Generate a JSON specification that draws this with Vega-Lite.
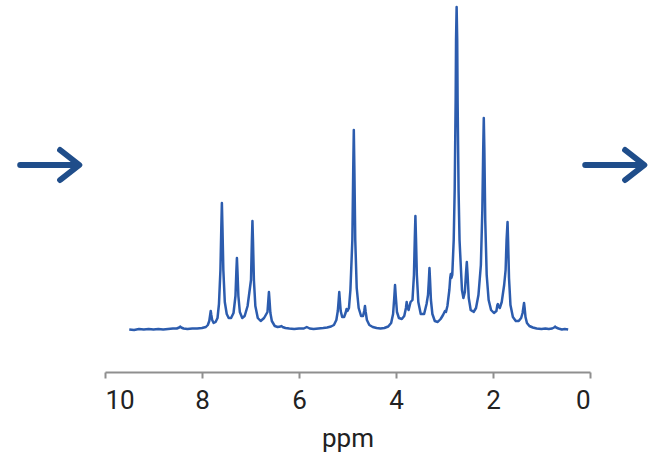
{
  "$schema": "https://vega.github.io/schema/vega-lite/v6.json",
  "width": 485,
  "height": 372,
  "autosize": "none",
  "padding": {"left": 105, "top": 0, "right": 69, "bottom": 90},
  "background": "white",
  "config": {
    "view": {"stroke": null},
    "font": "Roboto",
    "axis": {"grid": false}
  },
  "layer": [
    {
      "data": {"values": [
        {"ppm": 9.5, "i": 0.5}, {"ppm": 9.4, "i": 0}, {"ppm": 9.3, "i": 1}, {"ppm": 9.2, "i": 0.5}, {"ppm": 9.1, "i": 1},
        {"ppm": 9.0, "i": 0.5}, {"ppm": 8.9, "i": 1}, {"ppm": 8.8, "i": 0.5}, {"ppm": 8.7, "i": 1}, {"ppm": 8.6, "i": 1.5},
        {"ppm": 8.52, "i": 1.5}, {"ppm": 8.47, "i": 2.5}, {"ppm": 8.45, "i": 3.5}, {"ppm": 8.43, "i": 2.5}, {"ppm": 8.38, "i": 1.5},
        {"ppm": 8.3, "i": 1}, {"ppm": 8.2, "i": 1.5}, {"ppm": 8.1, "i": 1.5}, {"ppm": 8.0, "i": 2}, {"ppm": 7.92, "i": 3},
        {"ppm": 7.88, "i": 5}, {"ppm": 7.85, "i": 9}, {"ppm": 7.832, "i": 15}, {"ppm": 7.82, "i": 19}, {"ppm": 7.808, "i": 15},
        {"ppm": 7.79, "i": 10}, {"ppm": 7.76, "i": 7}, {"ppm": 7.72, "i": 8}, {"ppm": 7.68, "i": 12},
        {"ppm": 7.65, "i": 26}, {"ppm": 7.62, "i": 60}, {"ppm": 7.602, "i": 102}, {"ppm": 7.59, "i": 127}, {"ppm": 7.578, "i": 102},
        {"ppm": 7.56, "i": 60}, {"ppm": 7.53, "i": 28}, {"ppm": 7.49, "i": 16}, {"ppm": 7.45, "i": 12}, {"ppm": 7.4, "i": 12},
        {"ppm": 7.35, "i": 17}, {"ppm": 7.31, "i": 34}, {"ppm": 7.292, "i": 58}, {"ppm": 7.28, "i": 72}, {"ppm": 7.268, "i": 58},
        {"ppm": 7.25, "i": 34}, {"ppm": 7.22, "i": 18}, {"ppm": 7.17, "i": 12}, {"ppm": 7.12, "i": 14}, {"ppm": 7.06, "i": 24},
        {"ppm": 6.99, "i": 50}, {"ppm": 6.972, "i": 88}, {"ppm": 6.96, "i": 109}, {"ppm": 6.948, "i": 88}, {"ppm": 6.93, "i": 50},
        {"ppm": 6.9, "i": 24}, {"ppm": 6.85, "i": 12}, {"ppm": 6.79, "i": 9}, {"ppm": 6.72, "i": 12},
        {"ppm": 6.65, "i": 18}, {"ppm": 6.632, "i": 30}, {"ppm": 6.62, "i": 38}, {"ppm": 6.608, "i": 30}, {"ppm": 6.59, "i": 17},
        {"ppm": 6.56, "i": 9}, {"ppm": 6.5, "i": 4}, {"ppm": 6.44, "i": 3}, {"ppm": 6.38, "i": 3.5}, {"ppm": 6.36, "i": 4},
        {"ppm": 6.34, "i": 3}, {"ppm": 6.28, "i": 2}, {"ppm": 6.2, "i": 1.5}, {"ppm": 6.1, "i": 1}, {"ppm": 6.0, "i": 1.5},
        {"ppm": 5.9, "i": 1.5}, {"ppm": 5.84, "i": 3}, {"ppm": 5.78, "i": 1.5}, {"ppm": 5.7, "i": 1}, {"ppm": 5.6, "i": 1.5},
        {"ppm": 5.5, "i": 2}, {"ppm": 5.42, "i": 2.5}, {"ppm": 5.34, "i": 3.5}, {"ppm": 5.28, "i": 5},
        {"ppm": 5.23, "i": 10}, {"ppm": 5.2, "i": 19}, {"ppm": 5.182, "i": 30}, {"ppm": 5.17, "i": 38}, {"ppm": 5.158, "i": 30},
        {"ppm": 5.14, "i": 19}, {"ppm": 5.11, "i": 13}, {"ppm": 5.07, "i": 13}, {"ppm": 5.04, "i": 17}, {"ppm": 5.02, "i": 21},
        {"ppm": 5.0, "i": 19}, {"ppm": 4.97, "i": 22}, {"ppm": 4.94, "i": 40}, {"ppm": 4.9, "i": 90}, {"ppm": 4.882, "i": 160},
        {"ppm": 4.87, "i": 200}, {"ppm": 4.858, "i": 160}, {"ppm": 4.84, "i": 90}, {"ppm": 4.81, "i": 42}, {"ppm": 4.77, "i": 22},
        {"ppm": 4.72, "i": 14}, {"ppm": 4.68, "i": 14}, {"ppm": 4.655, "i": 19}, {"ppm": 4.64, "i": 24}, {"ppm": 4.625, "i": 18},
        {"ppm": 4.6, "i": 10}, {"ppm": 4.55, "i": 5}, {"ppm": 4.48, "i": 3}, {"ppm": 4.4, "i": 2}, {"ppm": 4.32, "i": 1.5},
        {"ppm": 4.24, "i": 2}, {"ppm": 4.16, "i": 3.5}, {"ppm": 4.1, "i": 7}, {"ppm": 4.06, "i": 16}, {"ppm": 4.035, "i": 33},
        {"ppm": 4.02, "i": 45}, {"ppm": 4.005, "i": 34}, {"ppm": 3.98, "i": 18}, {"ppm": 3.94, "i": 12}, {"ppm": 3.88, "i": 11},
        {"ppm": 3.83, "i": 14}, {"ppm": 3.795, "i": 22}, {"ppm": 3.78, "i": 28}, {"ppm": 3.765, "i": 23}, {"ppm": 3.74, "i": 20},
        {"ppm": 3.7, "i": 28}, {"ppm": 3.66, "i": 30}, {"ppm": 3.63, "i": 55}, {"ppm": 3.612, "i": 92}, {"ppm": 3.6, "i": 114},
        {"ppm": 3.588, "i": 92}, {"ppm": 3.57, "i": 55}, {"ppm": 3.54, "i": 28}, {"ppm": 3.49, "i": 16}, {"ppm": 3.42, "i": 16},
        {"ppm": 3.37, "i": 26}, {"ppm": 3.34, "i": 35}, {"ppm": 3.322, "i": 50}, {"ppm": 3.31, "i": 62}, {"ppm": 3.298, "i": 50},
        {"ppm": 3.28, "i": 30}, {"ppm": 3.25, "i": 16}, {"ppm": 3.2, "i": 9}, {"ppm": 3.14, "i": 8}, {"ppm": 3.08, "i": 11},
        {"ppm": 3.03, "i": 15}, {"ppm": 2.99, "i": 19}, {"ppm": 2.97, "i": 18}, {"ppm": 2.94, "i": 24}, {"ppm": 2.9, "i": 40},
        {"ppm": 2.882, "i": 52}, {"ppm": 2.87, "i": 56}, {"ppm": 2.858, "i": 52}, {"ppm": 2.84, "i": 55}, {"ppm": 2.81, "i": 90},
        {"ppm": 2.79, "i": 140}, {"ppm": 2.77, "i": 230}, {"ppm": 2.762, "i": 290}, {"ppm": 2.75, "i": 323}, {"ppm": 2.738, "i": 290},
        {"ppm": 2.73, "i": 230}, {"ppm": 2.71, "i": 140}, {"ppm": 2.69, "i": 90}, {"ppm": 2.66, "i": 60}, {"ppm": 2.64, "i": 40},
        {"ppm": 2.61, "i": 32}, {"ppm": 2.58, "i": 38}, {"ppm": 2.555, "i": 58}, {"ppm": 2.54, "i": 68}, {"ppm": 2.525, "i": 56},
        {"ppm": 2.5, "i": 32}, {"ppm": 2.46, "i": 20}, {"ppm": 2.43, "i": 19}, {"ppm": 2.42, "i": 19}, {"ppm": 2.4, "i": 18},
        {"ppm": 2.35, "i": 22}, {"ppm": 2.3, "i": 35}, {"ppm": 2.25, "i": 65}, {"ppm": 2.22, "i": 120}, {"ppm": 2.202, "i": 180},
        {"ppm": 2.19, "i": 212}, {"ppm": 2.178, "i": 180}, {"ppm": 2.16, "i": 110}, {"ppm": 2.13, "i": 55}, {"ppm": 2.09, "i": 30},
        {"ppm": 2.04, "i": 20}, {"ppm": 1.98, "i": 17}, {"ppm": 1.93, "i": 19}, {"ppm": 1.91, "i": 25}, {"ppm": 1.9, "i": 26},
        {"ppm": 1.89, "i": 24}, {"ppm": 1.86, "i": 22}, {"ppm": 1.82, "i": 28}, {"ppm": 1.77, "i": 45}, {"ppm": 1.74, "i": 60},
        {"ppm": 1.72, "i": 90}, {"ppm": 1.7, "i": 108}, {"ppm": 1.688, "i": 88}, {"ppm": 1.67, "i": 52}, {"ppm": 1.64, "i": 25},
        {"ppm": 1.59, "i": 13}, {"ppm": 1.53, "i": 9}, {"ppm": 1.47, "i": 9}, {"ppm": 1.42, "i": 12}, {"ppm": 1.39, "i": 17},
        {"ppm": 1.372, "i": 23}, {"ppm": 1.36, "i": 27}, {"ppm": 1.348, "i": 22}, {"ppm": 1.33, "i": 13}, {"ppm": 1.3, "i": 7},
        {"ppm": 1.25, "i": 4}, {"ppm": 1.18, "i": 2.5}, {"ppm": 1.1, "i": 1.5}, {"ppm": 1.0, "i": 1}, {"ppm": 0.92, "i": 1.5},
        {"ppm": 0.85, "i": 1}, {"ppm": 0.78, "i": 1.5}, {"ppm": 0.74, "i": 2.5}, {"ppm": 0.72, "i": 3.5}, {"ppm": 0.7, "i": 2.5},
        {"ppm": 0.65, "i": 1.5}, {"ppm": 0.58, "i": 0.5}, {"ppm": 0.52, "i": 1}, {"ppm": 0.45, "i": 0.5}
      ]},
      "mark": {"type": "line", "color": "#2c5cae", "strokeWidth": 2.5, "strokeJoin": "round"},
      "encoding": {
        "x": {
          "field": "ppm", "type": "quantitative",
          "scale": {"domain": [10, 0], "nice": false, "zero": false},
          "axis": {
            "values": [0, 2, 4, 6, 8, 10],
            "format": "d",
            "title": "ppm",
            "domainColor": "#8f8f8f", "domainWidth": 2,
            "tickColor": "#8f8f8f", "tickWidth": 2, "tickSize": 6,
            "labelFontSize": 26, "labelColor": "#222222", "labelPadding": 9,
            "labelFont": "Roboto",
            "titleFont": "Roboto", "titleFontSize": 26, "titleFontWeight": "normal",
            "titleColor": "#222222", "titlePadding": 12
          }
        },
        "y": {
          "field": "i", "type": "quantitative",
          "scale": {"domain": [-42, 330], "nice": false, "zero": false},
          "axis": null
        }
      }
    },
    {
      "data": {"values": [{"side": "left"}]},
      "mark": {
        "type": "point",
        "clip": false,
        "shape": "M-1,0L0.95,0M0.33,-0.5L0.97,0L0.33,0.5",
        "filled": false,
        "size": 3600,
        "strokeWidth": 6,
        "strokeCap": "round",
        "strokeJoin": "round",
        "color": "#1f4d8a",
        "opacity": 1
      },
      "encoding": {
        "x": {"datum": 11.13, "type": "quantitative"},
        "y": {"datum": 165, "type": "quantitative"}
      }
    },
    {
      "data": {"values": [{"side": "right"}]},
      "mark": {
        "type": "point",
        "clip": false,
        "shape": "M-1,0L0.95,0M0.33,-0.5L0.97,0L0.33,0.5",
        "filled": false,
        "size": 3600,
        "strokeWidth": 6,
        "strokeCap": "round",
        "strokeJoin": "round",
        "color": "#1f4d8a",
        "opacity": 1
      },
      "encoding": {
        "x": {"datum": -0.52, "type": "quantitative"},
        "y": {"datum": 165, "type": "quantitative"}
      }
    }
  ]
}
